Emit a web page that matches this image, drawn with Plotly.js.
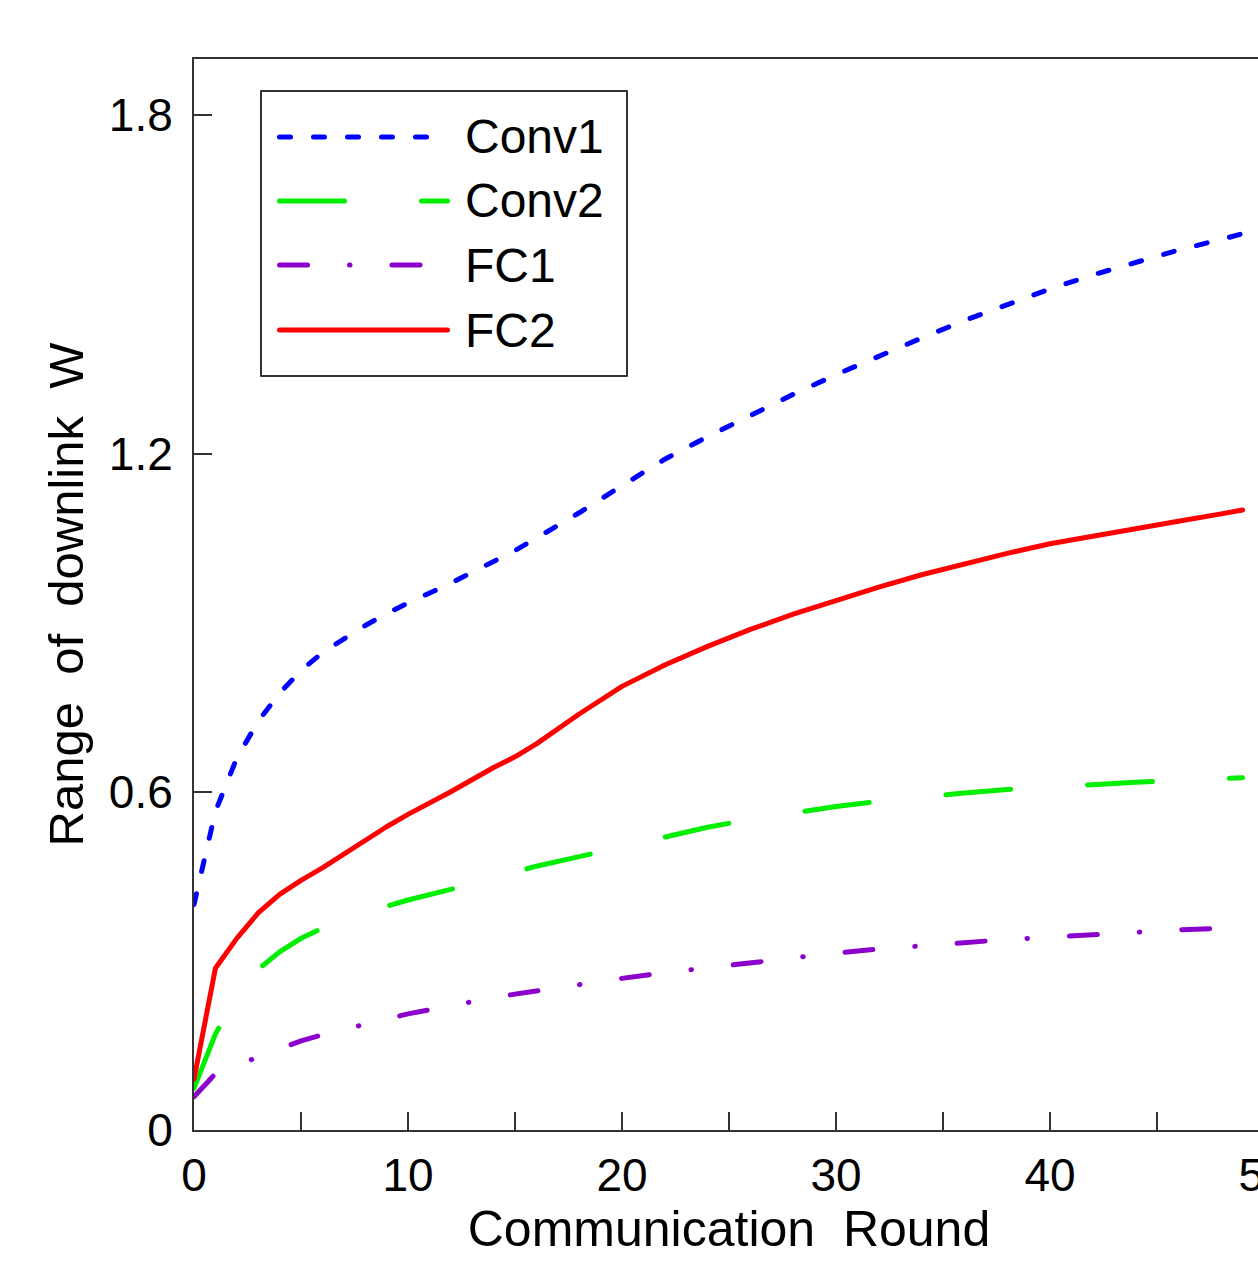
<!DOCTYPE html>
<html>
<head>
<meta charset="utf-8">
<script src="https://cdn.plot.ly/plotly-3.0.1.min.js"></script>
<style>
html, body { margin: 0; padding: 0; overflow: hidden; background: #fff; width: 1258px; height: 1265px; }
#chart { width: 1304px; height: 1265px; }
.js-line, .shapelayer path { stroke-linecap: round; stroke-linejoin: round; }
.xtitle, .ytitle { white-space: pre; }
</style>
</head>
<body>
<div id="chart"></div>
<script>
// ---- data ----
const rounds = [0,1,2,3,4,5,6,7,8,9,10,12,14,15,16,18,20,22,24,26,28,30,32,34,36,38,40,42,44,46,48,49];
const conv1 = [0.40,0.565,0.66,0.725,0.775,0.815,0.847,0.872,0.895,0.916,0.935,0.97,1.008,1.028,1.05,1.095,1.143,1.19,1.23,1.268,1.305,1.34,1.373,1.405,1.436,1.465,1.492,1.517,1.54,1.561,1.58,1.59];
const conv2 = [0.074,0.17,0.24,0.285,0.316,0.34,0.358,0.373,0.386,0.397,0.408,0.427,0.448,0.457,0.468,0.485,0.502,0.52,0.537,0.551,0.563,0.574,0.583,0.591,0.598,0.604,0.609,0.614,0.617,0.62,0.623,0.625];
const fc1 = [0.059,0.10,0.115,0.129,0.145,0.158,0.169,0.179,0.188,0.197,0.206,0.221,0.235,0.241,0.247,0.258,0.269,0.279,0.288,0.297,0.306,0.314,0.321,0.327,0.333,0.338,0.342,0.347,0.351,0.355,0.358,0.36];
const fc2 = [0.09,0.287,0.34,0.385,0.418,0.443,0.465,0.49,0.515,0.538,0.56,0.60,0.643,0.662,0.685,0.738,0.787,0.825,0.858,0.888,0.915,0.94,0.963,0.985,1.005,1.023,1.04,1.054,1.067,1.08,1.093,1.10];

const seriesNames = ['Conv1','Conv2','FC1','FC2'];
const xTickVals = [0,10,20,30,40,50];
const xTickText = ['0','10','20','30','40','50'];
const xMinorVals = [5,15,25,35,45];
const yTickVals = [0,0.6,1.2,1.8];
const yTickText = ['0','0.6','1.2','1.8'];

// ---- styles ----
const colors = ['#0000ff','#00ee00','#8c00cc','#ff0000'];
const dashes = ['11px,23px','65px,77px','28px,42px,0.5px,42px','solid'];
const LW = 5;
const FONT = 'Liberation Sans, Arial, Helvetica, sans-serif';

const ys = [conv1, conv2, fc1, fc2];
const traces = ys.map((y, i) => ({
  type: 'scatter', mode: 'lines', name: seriesNames[i],
  x: rounds, y: y,
  line: {color: colors[i], width: LW, dash: dashes[i]},
  showlegend: false, hoverinfo: 'skip'
}));

// plot area geometry (pixels)
const ML = 194, MT = 59, MB = 135, MR = 40, W = 1304, H = 1265;
const PW = W - ML - MR, PH = H - MT - MB;
const px = p => (p - ML) / PW;           // pixel -> paper x
const py = p => (H - MB - p) / PH;       // pixel -> paper y

// manual legend (box, line samples, labels)
const legendRows = [137, 201, 265, 330];
const legendEnds = [438, 450, 425, 450];
const shapes = [{
  type: 'rect', xref: 'paper', yref: 'paper',
  x0: px(261), x1: px(627), y0: py(376), y1: py(91),
  line: {color: '#333333', width: 2}, fillcolor: '#ffffff', layer: 'above'
}];
const annotations = [];
seriesNames.forEach((n, i) => {
  shapes.push({
    type: 'line', xref: 'paper', yref: 'paper',
    x0: px(279.5), x1: px(legendEnds[i] - 2.5), y0: py(legendRows[i]), y1: py(legendRows[i]),
    line: {color: colors[i], width: LW, dash: dashes[i]}, layer: 'above'
  });
  annotations.push({
    xref: 'paper', yref: 'paper', x: px(463), y: py(legendRows[i]),
    xanchor: 'left', yanchor: 'middle', showarrow: false, text: n,
    font: {family: FONT, size: 48, color: '#000'}
  });
});

const layout = {
  width: W, height: H,
  margin: {l: ML, r: MR, t: MT, b: MB, pad: 0},
  paper_bgcolor: '#ffffff', plot_bgcolor: '#ffffff',
  font: {family: FONT, size: 46, color: '#000'},
  xaxis: {
    range: [0, 50], tickvals: xTickVals, ticktext: xTickText,
    ticks: 'inside', ticklen: 18, tickwidth: 2, tickcolor: '#333',
    minor: {tickvals: xMinorVals, ticks: 'inside', ticklen: 18, tickwidth: 2, tickcolor: '#333'},
    showline: true, linecolor: '#333', linewidth: 2, mirror: true,
    showgrid: false, zeroline: false,
    tickfont: {family: FONT, size: 46, color: '#000'},
    ticklabelstandoff: 4,
    title: {text: 'Communication  Round', font: {family: FONT, size: 50, color: '#000'}, standoff: 10}
  },
  yaxis: {
    range: [0, 1.9], tickvals: yTickVals, ticktext: yTickText,
    ticks: 'inside', ticklen: 18, tickwidth: 2, tickcolor: '#333',
    showline: true, linecolor: '#333', linewidth: 2, mirror: true,
    showgrid: false, zeroline: false,
    tickfont: {family: FONT, size: 46, color: '#000'},
    ticklabelstandoff: 10,
    title: {text: 'Range  of  downlink  W', font: {family: FONT, size: 49, color: '#000'}, standoff: 10}
  },
  shapes: shapes,
  annotations: annotations,
  showlegend: false
};

Plotly.newPlot('chart', traces, layout, {staticPlot: true, displayModeBar: false});
</script>
</body>
</html>
